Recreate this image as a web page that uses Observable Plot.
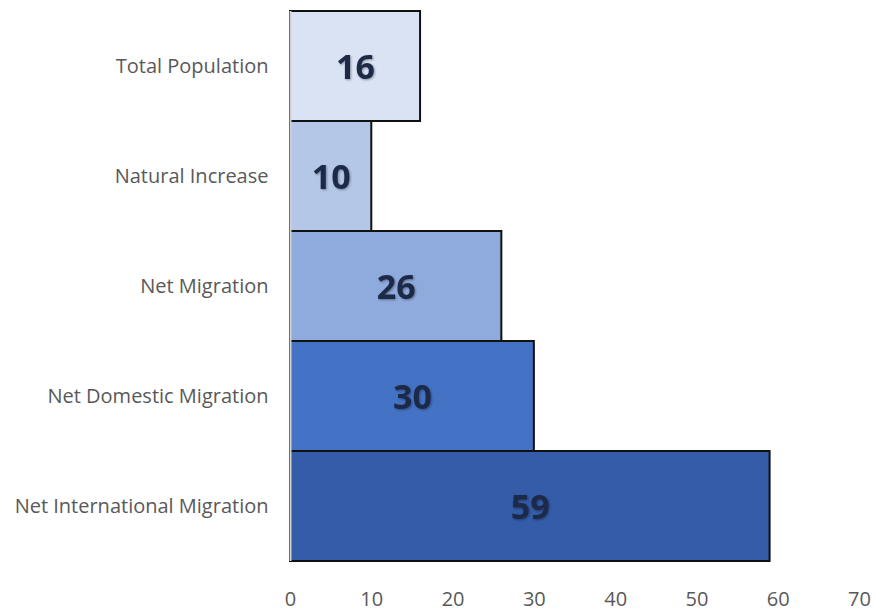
<!DOCTYPE html>
<html>
<head>
<meta charset="utf-8">
<script src="https://cdn.jsdelivr.net/npm/d3@7"></script>
<script src="https://cdn.jsdelivr.net/npm/@observablehq/plot@0.6"></script>
<style>
  html, body { margin: 0; padding: 0; background: #fff; }
  #chart svg { display: block; }
  .vlabel { filter: drop-shadow(1px 1px 1px rgba(0,0,0,0.35)); }
</style>
</head>
<body>
<div id="chart"></div>
<script>
const categories = ["Total Population", "Natural Increase", "Net Migration", "Net Domestic Migration", "Net International Migration"];
const values = [16, 10, 26, 30, 59];
const colors = ["#dae3f3", "#b4c7e7", "#8faadc", "#4472c4", "#345ca8"];
const xTicks = [0, 10, 20, 30, 40, 50, 60, 70];

const data = categories.map((c, i) => ({category: c, value: values[i], color: colors[i]}));

const chart = Plot.plot({
  width: 876,
  height: 616,
  marginLeft: 290,
  marginRight: 17,
  marginTop: 11,
  marginBottom: 55,
  style: {fontFamily: "'Open Sans', sans-serif", background: "#fff"},
  x: {domain: [0, 70], ticks: xTicks, label: null},
  y: {domain: categories, padding: 0, label: null},
  marks: [
    Plot.barX(data, {x: "value", y: "category", fill: d => d.color, stroke: "#111", strokeWidth: 2}),
    Plot.ruleX([0], {stroke: "#d0d0d0", strokeWidth: 2}),
    Plot.text(data, {x: d => d.value / 2, y: "category", text: d => String(d.value), fill: "#1c2a48", fontSize: 34, fontWeight: "bold", className: "vlabel", dy: 2}),
    Plot.axisX({ticks: xTicks, tickSize: 0, tickPadding: 30, fontSize: 20, fill: "#595959", stroke: null, label: null, tickFormat: d => String(d)}),
    Plot.axisY({tickSize: 0, tickPadding: 22, fontSize: 20, fill: "#595959", label: null})
  ]
});
document.getElementById("chart").appendChild(chart);
</script>
</body>
</html>
